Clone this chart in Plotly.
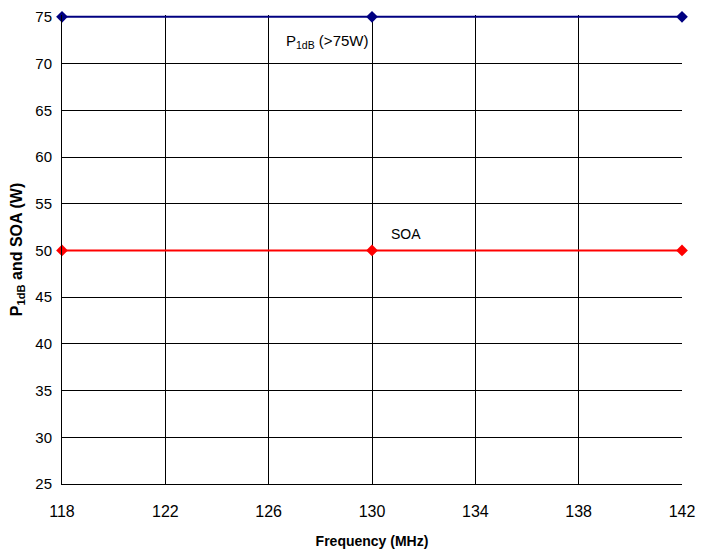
import plotly.graph_objects as go

freq = [118, 130, 142]
p1db = [75, 75, 75]
soa = [50, 50, 50]
x_ticks = [118, 122, 126, 130, 134, 138, 142]
y_ticks = [25, 30, 35, 40, 45, 50, 55, 60, 65, 70, 75]

fig = go.Figure()
fig.add_trace(go.Scatter(x=freq, y=p1db, mode="lines+markers", name="P1dB",
                         line=dict(color="#000080", width=2),
                         marker=dict(symbol="diamond", size=9, color="#000080"),
                         cliponaxis=False))
fig.add_trace(go.Scatter(x=freq, y=soa, mode="lines+markers", name="SOA",
                         line=dict(color="#FF0000", width=2),
                         marker=dict(symbol="diamond", size=9, color="#FF0000"),
                         cliponaxis=False))

fig.add_annotation(x=126.6, y=72.4, text="P<sub>1dB</sub> (>75W)", showarrow=False,
                   xanchor="left", yanchor="middle",
                   font=dict(family="Arial, Liberation Sans", size=15, color="black"))
fig.add_annotation(x=130.66, y=51.8, text="SOA", showarrow=False,
                   xanchor="left", yanchor="middle",
                   font=dict(family="Arial, Liberation Sans", size=14, color="black"))

fig.update_layout(
    width=704, height=546,
    margin=dict(l=54, r=30, t=7, b=70),
    plot_bgcolor="white", paper_bgcolor="white",
    showlegend=False,
    font=dict(family="Arial, Liberation Sans", size=14, color="black"),
)
fig.update_xaxes(range=[118, 142], tickvals=x_ticks, showgrid=True, gridcolor="black",
                 gridwidth=1, showline=True, linecolor="black", linewidth=1,
                 zeroline=False, ticks="", ticklabelstandoff=13, automargin=False,
                 tickfont=dict(family="Arial, Liberation Sans", size=16),
                 title=dict(text="<b>Frequency (MHz)</b>", font=dict(size=14), standoff=16))
fig.update_yaxes(range=[25, 75.2], tickvals=y_ticks, showgrid=True, gridcolor="black",
                 gridwidth=1, showline=True, linecolor="black", linewidth=1,
                 zeroline=False, ticks="", ticklabelstandoff=6, automargin=False,
                 tickfont=dict(size=15),
                 title=dict(text="<b>P<sub>1dB</sub> and SOA (W)</b>", font=dict(size=16), standoff=12))

fig.write_html("out.html")
